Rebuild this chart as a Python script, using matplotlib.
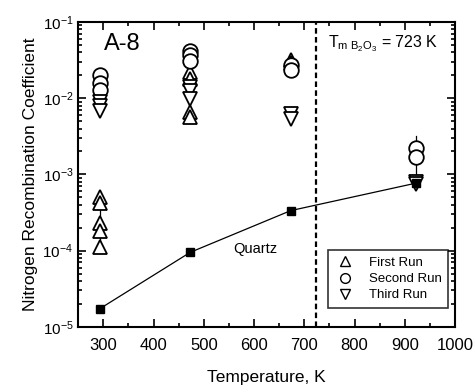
import numpy as np
import matplotlib
matplotlib.use("Agg")
import matplotlib.pyplot as plt
from matplotlib.ticker import MultipleLocator, LogLocator, NullFormatter

plt.rcParams["font.family"] = ["Liberation Sans", "DejaVu Sans"]
plt.rcParams["mathtext.fontset"] = "custom"
plt.rcParams["mathtext.rm"] = "Liberation Sans"
plt.rcParams["mathtext.it"] = "Liberation Sans"

# ── data ──────────────────────────────────────────────────────────────
quartz_T = [293, 473, 673, 923]
quartz_gamma = [1.73e-5, 9.5e-5, 3.35e-4, 7.7e-4]

first_T = [293, 293, 293, 293, 293, 473, 473, 473, 473, 673, 673]
first_gamma = [5.0e-4, 4.2e-4, 2.3e-4, 1.8e-4, 1.12e-4,
               0.022, 0.018, 0.0066, 0.0056, 0.032, 0.029]

second_T = [293, 293, 293, 473, 473, 473, 673, 673, 923, 923]
second_gamma = [0.020, 0.016, 0.0128, 0.041, 0.037, 0.031,
                0.027, 0.0235, 0.0022, 0.0017]

third_T = [293, 293, 293, 473, 473, 473, 673, 673, 923, 923]
third_gamma = [0.0088, 0.0078, 0.0068, 0.0142, 0.0125, 0.0098,
               0.0062, 0.0053, 7.9e-4, 7.4e-4]

# vertical error bars (T, low, high)
err_T = [293, 923]
err_lo = [1.25e-4, 7.0e-4]
err_hi = [4.6e-4, 3.2e-3]

T_melt = 723

# ── plot ──────────────────────────────────────────────────────────────
fig = plt.figure(figsize=(4.74, 3.85), dpi=100)
ax = fig.add_axes([0.165, 0.151, 0.795, 0.792])

for t, lo, hi in zip(err_T, err_lo, err_hi):
    ax.plot([t, t], [lo, hi], color="black", lw=0.9, zorder=1)

ax.plot(quartz_T, quartz_gamma, color="black", lw=0.9, marker="s",
        ms=6, mfc="black", mec="black", zorder=3)

mk = dict(ls="none", mfc="white", mec="black", mew=1.3, ms=10.5, zorder=2)
ax.plot(first_T, first_gamma, marker="^", **mk)
ax.plot(second_T, second_gamma, marker="o", **mk)
ax.plot(third_T, third_gamma, marker="v", **mk)

ax.axvline(T_melt, color="black", ls=(0, (2.5, 1.5)), lw=1.6, zorder=1)

ax.set_xlim(250, 1000)
ax.set_ylim(1e-5, 1e-1)
ax.set_yscale("log")
ax.xaxis.set_major_locator(MultipleLocator(100))
ax.xaxis.set_minor_locator(MultipleLocator(50))
ax.yaxis.set_major_locator(LogLocator(base=10, numticks=10))
ax.yaxis.set_minor_locator(LogLocator(base=10, subs=np.arange(2, 10), numticks=10))
ax.yaxis.set_minor_formatter(NullFormatter())
ax.tick_params(which="both", direction="in", top=True, right=True, width=1.2)
ax.tick_params(which="major", length=6)
ax.tick_params(which="minor", length=3)
ax.tick_params(axis="x", pad=8, labelsize=12)
ax.tick_params(axis="y", labelsize=11)
for s in ax.spines.values():
    s.set_linewidth(1.5)

ax.set_xlabel("Temperature, K", fontsize=12.5, labelpad=12)
ax.set_ylabel("Nitrogen Recombination Coefficient", fontsize=12.5, labelpad=3)

ax.text(302, 0.052, "A-8", fontsize=17, ha="left", va="center")
ax.text(748, 0.052, r"T$_{\rm m\ B_2O_3}$ = 723 K", fontsize=11.5,
        ha="left", va="center")
ax.text(558, 1.05e-4, "Quartz", fontsize=10.5, ha="left", va="center")

h1, = ax.plot([], [], ls="none", marker="^", mfc="white", mec="black", ms=7)
h2, = ax.plot([], [], ls="none", marker="o", mfc="white", mec="black", ms=7)
h3, = ax.plot([], [], ls="none", marker="v", mfc="white", mec="black", ms=7)
leg = ax.legend([h1, h2, h3], ["First Run", "Second Run", "Third Run"],
                loc="lower right", bbox_to_anchor=(1.0, 0.04), fontsize=9.5,
                frameon=True, fancybox=False, edgecolor="black",
                handletextpad=1.0, borderpad=0.5, labelspacing=0.3,
                handlelength=1.6)
leg.get_frame().set_linewidth(1.2)

fig.savefig("out.png", dpi=100)
